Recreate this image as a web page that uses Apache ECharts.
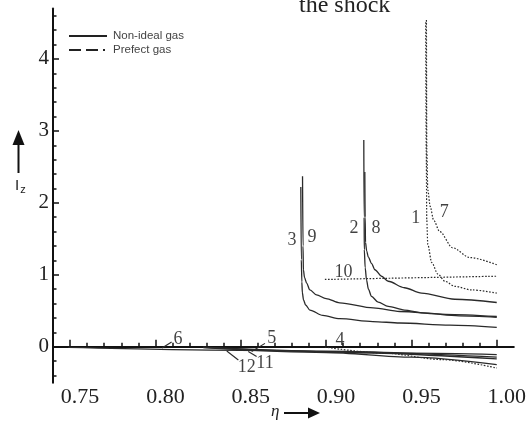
<!DOCTYPE html>
<html>
<head>
<meta charset="utf-8">
<script src="https://cdn.jsdelivr.net/npm/echarts@6/dist/echarts.min.js"></script>
<style>
html, body { margin: 0; padding: 0; background: #fff; }
#chart { width: 529px; height: 425px; }
</style>
</head>
<body>
<div id="chart"></div>
<script>
// tick values
const xTicks = [0.75, 0.80, 0.85, 0.90, 0.95, 1.00]
const xMinor = [0.76, 0.77, 0.78, 0.79, 0.81, 0.82, 0.83, 0.84, 0.86, 0.87, 0.88, 0.89,
  0.91, 0.92, 0.93, 0.94, 0.96, 0.97, 0.98, 0.99]
const yTicks = [0, 1, 2, 3, 4]
const yMinor = [-0.4, -0.2, 0.2, 0.4, 0.6, 0.8, 1.2, 1.4, 1.6, 1.8, 2.2, 2.4, 2.6, 2.8,
  3.2, 3.4, 3.6, 3.8, 4.2, 4.4, 4.6]

// non-ideal gas (solid)
const curve2 = [[0.9221, 2.875], [0.9223, 1.8], [0.9224, 1.35], [0.9229, 1.1], [0.9237, 0.93], [0.9248, 0.8],
  [0.9266, 0.70], [0.9305, 0.62], [0.9364, 0.56], [0.9459, 0.51], [0.9559, 0.47], [0.978, 0.43], [1.0, 0.41]]
const curve3 = [[0.8852, 2.22], [0.8855, 1.21], [0.8858, 0.9], [0.8861, 0.75], [0.8868, 0.65], [0.8880, 0.58],
  [0.8905, 0.51], [0.8981, 0.435], [0.908, 0.39], [0.9274, 0.35], [0.9432, 0.33], [0.9725, 0.30], [1.0, 0.27]]
const curve5 = [[0.828, -0.005], [0.9, -0.06], [1.0, -0.145]]
const curve6 = [[0.749, -0.01], [0.85, -0.05], [0.95, -0.09], [1.0, -0.11]]
const curve8 = [[0.9227, 2.43], [0.9229, 1.8], [0.9231, 1.45], [0.9238, 1.33], [0.9247, 1.25], [0.9266, 1.16],
  [0.9286, 1.07], [0.9325, 0.98], [0.9364, 0.91], [0.9459, 0.82], [0.9559, 0.745], [0.9754, 0.66], [1.0, 0.615]]
const curve9 = [[0.8862, 2.37], [0.8865, 1.4], [0.8867, 1.07], [0.8874, 0.96], [0.8886, 0.885], [0.8905, 0.79],
  [0.8944, 0.72], [0.9, 0.67], [0.908, 0.61], [0.9276, 0.54], [0.9432, 0.49], [0.97, 0.45], [1.0, 0.42]]
const curve11 = [[0.828, -0.01], [0.9, -0.07], [1.0, -0.17]]
const curve12 = [[0.828, -0.012], [0.9, -0.08], [0.95, -0.145], [1.0, -0.25]]

// prefect gas (dotted)
const curve1 = [[0.9584, 4.51], [0.9587, 2.74], [0.959, 1.76], [0.9596, 1.42], [0.9619, 1.17], [0.9655, 1.01],
  [0.9696, 0.91], [0.9754, 0.84], [0.9852, 0.79], [1.0, 0.745]]
const curve4 = [[0.8993, -0.005], [0.9334, -0.088], [0.9686, -0.18], [1.0, -0.296]]
const curve7 = [[0.9588, 4.54], [0.959, 2.74], [0.9596, 2.18], [0.9610, 1.95], [0.9630, 1.76], [0.9666, 1.60],
  [0.9742, 1.375], [0.9842, 1.24], [1.0, 1.14]]
const curve10 = [[0.8993, 0.935], [1.0, 0.98]]

// curve numbers and their leader lines
const curveLabels = [['1', 0.9525, 1.78], ['7', 0.9693, 1.875], ['2', 0.9163, 1.64], ['8', 0.9292, 1.64],
  ['3', 0.880, 1.48], ['9', 0.8917, 1.52], ['10', 0.9102, 1.03], ['4', 0.9081, 0.09],
  ['5', 0.8681, 0.117], ['6', 0.8132, 0.11], ['11', 0.8642, -0.23], ['12', 0.8535, -0.28]]
const leaders = [
  [[0.8039, -0.018], [0.8095, 0.065]],
  [[0.8564, -0.065], [0.8642, 0.047]],
  [[0.8418, -0.06], [0.8486, -0.185]],
  [[0.8544, -0.066], [0.8593, -0.135]]
]

const legendNames = ['Non-ideal gas', 'Prefect gas']

const serif = 'Liberation Serif'
const sans = 'Liberation Sans'
const ink = '#2a2a2a'

const chart = echarts.init(document.getElementById('chart'))

function solid(data) {
  return {
    type: 'line', data: data, showSymbol: false, symbol: 'none', smooth: 0.3, smoothMonotone: 'x',
    lineStyle: { color: ink, width: 1.3 }, silent: true
  }
}
function dotted(data) {
  return {
    type: 'line', data: data, showSymbol: false, symbol: 'none', smooth: 0.3, smoothMonotone: 'x',
    lineStyle: { color: ink, width: 1.2, type: [1.6, 1.6] }, silent: true
  }
}

const xBase = {
  type: 'value', min: 0.74, max: 1.01,
  splitLine: { show: false }
}
const yBase = {
  type: 'value', min: -0.5, max: 4.7,
  splitLine: { show: false }
}

chart.setOption({
  animation: false,
  backgroundColor: '#fff',
  grid: { left: 53, right: 15, top: 8.6, bottom: 42.3 },
  xAxis: [
    Object.assign({}, xBase, {
      axisLine: { lineStyle: { color: '#111', width: 2 } },
      axisTick: { inside: true, length: 7, customValues: xTicks, lineStyle: { color: '#111', width: 1.5 } },
      axisLabel: {
        customValues: xTicks, margin: 4, padding: [0, 0, 0, 20],
        fontFamily: serif, fontSize: 22, color: '#222',
        formatter: v => v.toFixed(2)
      }
    }),
    Object.assign({}, xBase, {
      position: 'bottom',
      axisLine: { show: false },
      axisTick: { inside: true, length: 4, customValues: xMinor, lineStyle: { color: '#111', width: 1.5 } },
      axisLabel: { show: false }
    })
  ],
  yAxis: [
    Object.assign({}, yBase, {
      axisLine: { show: true, lineStyle: { color: '#111', width: 2 } },
      axisTick: { show: true, inside: true, length: 6, customValues: yTicks, lineStyle: { color: '#111', width: 1.5 } },
      axisLabel: {
        customValues: yTicks, margin: 4,
        fontFamily: serif, fontSize: 21, color: '#222'
      }
    }),
    Object.assign({}, yBase, {
      position: 'left',
      axisLine: { show: false },
      axisTick: { show: true, inside: true, length: 3.5, customValues: yMinor, lineStyle: { color: '#111', width: 1.5 } },
      axisLabel: { show: false }
    })
  ],
  series: [
    solid(curve2), solid(curve3), solid(curve5), solid(curve6),
    solid(curve8), solid(curve9), solid(curve11), solid(curve12),
    dotted(curve1), dotted(curve4), dotted(curve7), dotted(curve10),
    {
      type: 'lines', coordinateSystem: 'cartesian2d', silent: true,
      data: leaders.map(c => ({ coords: c })),
      lineStyle: { color: ink, width: 1.1, opacity: 1 }
    },
    {
      type: 'scatter', silent: true, symbolSize: 1,
      itemStyle: { color: 'rgba(0,0,0,0)' },
      data: curveLabels.map(d => [d[1], d[2], d[0]]),
      label: {
        show: true, position: 'inside', formatter: p => p.value[2],
        fontFamily: serif, fontSize: 18, color: '#111'
      }
    }
  ],
  graphic: [
    {
      type: 'text', left: 299, top: -6,
      style: { text: 'the shock', font: '24px "Liberation Serif"', fill: '#222' }
    },
    // legend
    {
      type: 'line', shape: { x1: 69, y1: 36, x2: 107, y2: 36 },
      style: { stroke: '#222', lineWidth: 2 }
    },
    {
      type: 'line', shape: { x1: 69, y1: 50, x2: 107, y2: 50 },
      style: { stroke: '#222', lineWidth: 2, lineDash: [12, 5, 12, 5, 2, 40] }
    },
    {
      type: 'text', x: 113, y: 36,
      style: { text: legendNames[0], font: '11.5px "Liberation Sans"', fill: '#444', verticalAlign: 'middle' }
    },
    {
      type: 'text', x: 113, y: 50,
      style: { text: legendNames[1], font: '11.5px "Liberation Sans"', fill: '#444', verticalAlign: 'middle' }
    },
    // axis name arrows
    {
      type: 'polygon', shape: { points: [[18.5, 130], [12.5, 145], [24.5, 145]] },
      style: { fill: '#111' }
    },
    {
      type: 'rect', shape: { x: 17.5, y: 144, width: 2, height: 29 },
      style: { fill: '#111' }
    },
    {
      type: 'text', left: 15, top: 178,
      style: {
        text: 'I{s|z}',
        font: '15px "Liberation Sans"', fill: '#222',
        rich: { s: { fontSize: 11, fontFamily: sans, padding: [8, 0, 0, 1] } }
      }
    },
    {
      type: 'text', left: 271, top: 403,
      style: { text: 'η', font: 'italic 17px "Liberation Serif"', fill: '#222' }
    },
    {
      type: 'rect', shape: { x: 284, y: 412, width: 27, height: 2 },
      style: { fill: '#111' }
    },
    {
      type: 'polygon', shape: { points: [[320, 413], [308, 407.5], [308, 418.5]] },
      style: { fill: '#111' }
    }
  ]
})
</script>
</body>
</html>
